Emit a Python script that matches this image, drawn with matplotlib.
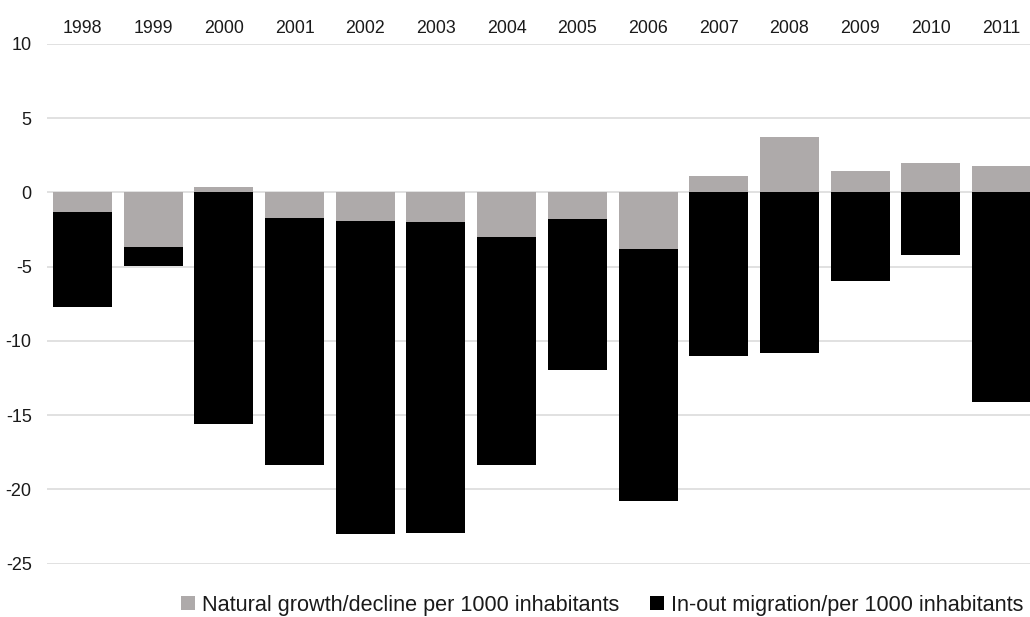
import matplotlib
matplotlib.use("Agg")
import matplotlib.pyplot as plt
from matplotlib.patches import Patch
import numpy as np

# Population change per 1000 inhabitants
years = ["1998", "1999", "2000", "2001", "2002", "2003", "2004",
         "2005", "2006", "2007", "2008", "2009", "2010", "2011"]
natural = [-1.3, -3.66, 0.38, -1.75, -1.93, -2.0, -3.0,
           -1.8, -3.8, 1.08, 3.75, 1.46, 1.98, 1.8]
migration = [-6.38, -1.26, -15.59, -16.62, -21.07, -20.9, -15.37,
             -10.15, -17.0, -10.98, -10.8, -5.93, -4.22, -14.08]

label_natural = "Natural growth/decline per 1000 inhabitants"
label_migration = "In-out migration/per 1000 inhabitants"

GRAY = "#aeaaaa"
BLACK = "#000000"
GRID = "#d9d9d9"

plt.rcParams["font.family"] = ["Liberation Sans", "DejaVu Sans"]
plt.rcParams["axes.unicode_minus"] = False

fig = plt.figure(figsize=(10.30, 6.17), dpi=100)
ax = fig.add_axes([47 / 1030, 53.3 / 617, 990 / 1030, 519.7 / 617])

x = np.arange(len(years))
nat = np.array(natural)
mig = np.array(migration)
width = 0.835

# negative values stack below the natural component, positive ones start at zero
ax.bar(x, nat, width=width, color=GRAY, zorder=3)
ax.bar(x, mig, width=width, bottom=np.minimum(nat, 0), color=BLACK, zorder=3)

ax.set_xlim(-0.5, len(years) - 0.5)
ax.set_ylim(-25, 10)
ax.set_yticks(np.arange(-25, 11, 5))
ax.yaxis.grid(True, color=GRID, linewidth=1.1, zorder=0)
ax.set_axisbelow(True)

ax.xaxis.tick_top()
ax.set_xticks(x)
ax.set_xticklabels(years, fontsize=12.8, color="#1a1a1a")
ax.tick_params(axis="x", length=0, pad=5)
ax.tick_params(axis="y", length=0, pad=11, labelsize=13, labelcolor="#1a1a1a")
for s in ax.spines.values():
    s.set_visible(False)

handles = [Patch(facecolor=GRAY, label=label_natural),
           Patch(facecolor=BLACK, label=label_migration)]
fig.legend(handles=handles, loc="center right",
           bbox_to_anchor=(1032 / 1030, 1 - 605 / 617), ncol=2, frameon=False,
           fontsize=15.6, handlelength=0.65, handleheight=0.65,
           handletextpad=0.3, columnspacing=1.45, borderaxespad=0,
           labelcolor="#1a1a1a")

fig.savefig("out.png", dpi=100)
